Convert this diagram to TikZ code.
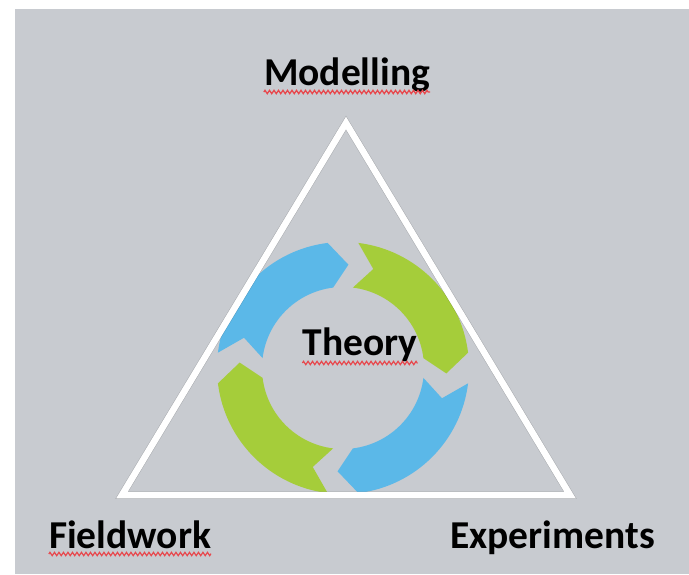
\documentclass[tikz,border=0pt]{standalone}
\usepackage{fontspec}
\setmainfont{Carlito}
\usetikzlibrary{decorations.pathmorphing}

\definecolor{panel}{HTML}{C8CBD0}
\definecolor{cycblue}{HTML}{5BB8E8}
\definecolor{cycgreen}{HTML}{A5CD3A}
\definecolor{squiggle}{HTML}{E8474C}

\tikzset{
  label/.style={font=\bfseries\fontsize{39.5}{40}\selectfont, text=black,
                inner sep=0pt, anchor=base},
  spell/.style={draw=squiggle, line width=1.2pt,
                decorate, decoration={zigzag, amplitude=1.7pt, segment length=4.5pt}},
  edge/.style={draw=white, line width=6.5pt, line join=miter},
  edgeshadow/.style={draw=black, draw opacity=0.16, line width=7.5pt, line join=miter},
}

% one chevron-ended arc of the cycle: #1 tail angle, #2 head angle
\newcommand{\cycarrow}[3]{%
  \fill[#3] (#1:126) arc[start angle=#1, end angle=#2, radius=126]
    -- ({#2-10}:103.5) -- (#2:81) arc[start angle=#2, end angle=#1, radius=81]
    -- ({#1-10}:103.5) -- cycle;}

\begin{document}
\begin{tikzpicture}[x=1pt, y=1pt]
  \useasboundingbox (0,0) rectangle (689,574);
  \fill[white] (0,0) rectangle (689,574);
  \fill[panel] (15,0) rectangle (689,565);

  % the four arrows of the cycle
  \begin{scope}[shift={(343,206)}]
    \cycarrow{173}{97}{cycblue}
    \cycarrow{83}{7}{cycgreen}
    \cycarrow{-7}{-83}{cycblue}
    \cycarrow{-97}{-173}{cycgreen}
  \end{scope}

  % triangle
  \coordinate (top) at (346,451);
  \coordinate (left) at (122,79);
  \coordinate (right) at (570,79);
  \draw[edgeshadow, shift={(1.2pt,-1.8pt)}] (top) -- (left) -- (right) -- cycle;
  \draw[edge] (top) -- (left) -- (right) -- cycle;

  % labels
  \node[label] (model) at (347,488) {Modelling};
  \node[label] (theory) at (360,218) {Theory};
  \node[label] (field) at (130,26) {Fieldwork};
  \node[label] (exper) at (552.5,26) {Experiments};

  % spelling squiggles
  \draw[spell] ([yshift=-6pt]model.base west) -- ([yshift=-6pt]model.base east);
  \draw[spell] ([yshift=-7pt]theory.base west) -- ([yshift=-7pt]theory.base east);
  \draw[spell] ([yshift=-6pt]field.base west) -- ([yshift=-6pt]field.base east);
\end{tikzpicture}
\end{document}
